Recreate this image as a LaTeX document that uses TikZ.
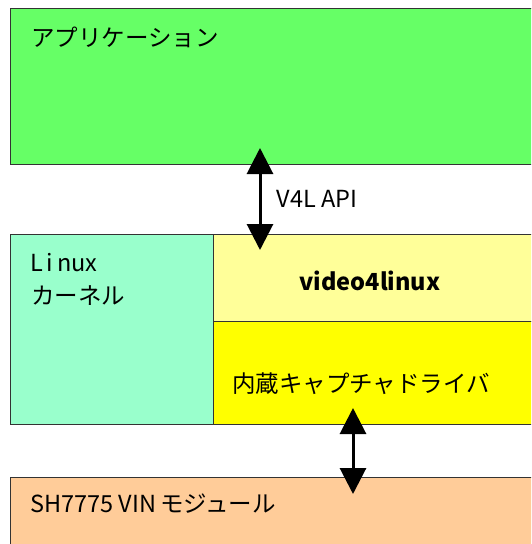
\documentclass[tikz,border=0pt]{standalone}
\usepackage{fontspec}
\setmainfont{Noto Sans CJK JP}
\usepackage{tikz}
\usetikzlibrary{arrows.meta, positioning}
\usepackage{xcolor}
\definecolor{appgreen}{HTML}{66FF66}
\definecolor{kernelmint}{HTML}{99FFCC}
\definecolor{vlight}{HTML}{FFFF99}
\definecolor{drvyellow}{HTML}{FFFF00}
\definecolor{vinpeach}{HTML}{FFCC99}

\begin{document}
\begin{tikzpicture}[x=1pt,y=-1pt,font=\fontsize{23.5}{28}\selectfont,
    box/.style={draw=black!80,line width=0.9pt,anchor=north west,inner sep=0pt},
    txt/.style={anchor=west,inner sep=0pt},
    arr/.style={{Triangle[width=26pt,length=26pt]}-{Triangle[width=26pt,length=26pt]},line width=3pt}]
    \useasboundingbox (0,0) rectangle (531,544);
    \clip (0,0) rectangle (531,544);
    \node[box,fill=appgreen,minimum width=540pt,minimum height=156pt]   (app) at (10,8)    {};
    \node[box,fill=kernelmint,minimum width=203pt,minimum height=190pt] (krn) at (10,234)  {};
    \node[box,fill=vlight,minimum width=330pt,minimum height=87pt]      (vfl) at (213,234) {};
    \node[box,fill=drvyellow,minimum width=330pt,minimum height=103pt]  (drv) at (213,321) {};
    \node[box,fill=vinpeach,minimum width=540pt,minimum height=90pt]    (vin) at (10,477)  {};
    \node[txt] (apptxt) at (31,37)  {アプリケーション};
    \node[txt] (lnx)    at (30,263) {L\,i\,nux};
    \node[txt] (krntxt) at (31,296) {カーネル};
    \node[inner sep=0pt] (vfltxt) at (370,281) {\bfseries video4linux};
    \node[txt] (drvtxt) at (232,384) {内蔵キャプチャドライバ};
    \node[txt] (vintxt) at (30,504) {SH7775 VIN\,モジュール};
    \coordinate (a1) at (260,148); \coordinate (b1) at (260,250);
    \coordinate (a2) at (353,408); \coordinate (b2) at (353,494);
    \draw[arr] (a1) -- node[right=15pt,inner sep=0pt] (api) {V4L API} (b1);
    \draw[arr] (a2) -- (b2);
\end{tikzpicture}
\end{document}
